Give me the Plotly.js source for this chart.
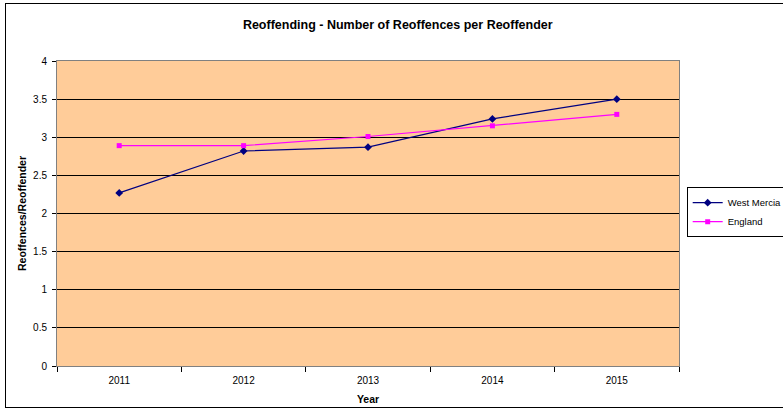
<!DOCTYPE html>
<html><head><meta charset="utf-8">
<script src="https://cdn.plot.ly/plotly-3.0.1.min.js"></script>
<style>
html,body{margin:0;padding:0;background:#fff;}
#wrap{position:relative;width:783px;height:412px;}
#chart{position:absolute;left:0;top:0;width:783px;height:412px;}
#frame{position:absolute;left:5px;top:3px;width:778px;height:405px;border:1px solid #000;border-right:none;pointer-events:none;box-sizing:border-box;}
</style></head>
<body><div id="wrap"><div id="chart"></div><div id="frame"></div></div>
<script>
var years = ["2011","2012","2013","2014","2015"];
var westMercia = [2.27, 2.82, 2.87, 3.24, 3.50];
var england = [2.89, 2.89, 3.01, 3.15, 3.30];
var yTicks = [0,0.5,1,1.5,2,2.5,3,3.5,4];

var fam = "Liberation Sans, Arial, sans-serif";
var font = {family:fam, size:10, color:"#000"};
var traces = [
  {x:years, y:westMercia, name:"West Mercia", type:"scatter", mode:"lines+markers",
   line:{color:"#000080", width:1.2}, marker:{symbol:"diamond", size:6, color:"#000080"}},
  {x:years, y:england, name:"England", type:"scatter", mode:"lines+markers",
   line:{color:"#FF00FF", width:1.2}, marker:{symbol:"square", size:5, color:"#FF00FF"}}
];
var layout = {
  width:783, height:412,
  margin:{l:57, r:104, t:61, b:46},
  paper_bgcolor:"rgba(0,0,0,0)", plot_bgcolor:"#FFCC99",
  font:font,
  title:{text:"<b>Reoffending - Number of Reoffences per Reoffender</b>", font:{family:fam, size:12.5, color:"#000"}, x:0.508, xref:"container", xanchor:"center", y:0.94, yanchor:"middle"},
  xaxis:{type:"category", range:[-0.5, years.length-0.5], tickson:"boundaries", ticks:"outside", ticklen:5, tickcolor:"#000",
    showline:true, linecolor:"#808080", linewidth:1, mirror:true, showgrid:false, zeroline:false,
    ticklabelstandoff:5,
    tickfont:font, title:{text:"<b>Year</b>", font:{family:fam, size:10.5, color:"#000"}, standoff:10}},
  yaxis:{range:[0,4], tickvals:yTicks, ticktext:yTicks.map(String), ticks:"outside", ticklen:4, tickcolor:"#000",
    showline:true, linecolor:"#808080", linewidth:1, mirror:true, showgrid:true, gridcolor:"#000", gridwidth:1, zeroline:false,
    ticklabelstandoff:3,
    tickfont:font, title:{text:"<b>Reoffences/Reoffender</b>", font:{family:fam, size:10.5, color:"#000"}, standoff:4}},
  legend:{xref:"container", yref:"container", x:0.877, xanchor:"left", y:0.485, yanchor:"middle", bgcolor:"#fff", bordercolor:"#000", borderwidth:1,
    font:{family:fam, size:9.5, color:"#000"}, tracegroupgap:0, itemwidth:30},
  showlegend:true
};
Plotly.newPlot("chart", traces, layout, {displayModeBar:false, staticPlot:true});
</script></body></html>
